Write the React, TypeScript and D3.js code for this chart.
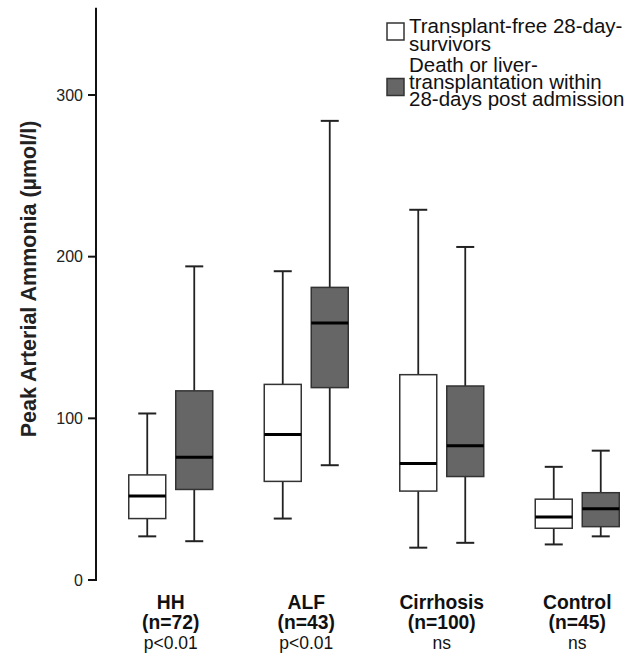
import React from 'react';
import * as d3 from 'd3';

// values: [min, q1, median, q3, max]
const groups = ['HH', 'ALF', 'Cirrhosis', 'Control'];
const nLabels = ['(n=72)', '(n=43)', '(n=100)', '(n=45)'];
const pLabels = ['p<0.01', 'p<0.01', 'ns', 'ns'];
const survivors = [
  [27, 38, 52, 65, 103],
  [38, 61, 90, 121, 191],
  [20, 55, 72, 127, 229],
  [22, 32, 39, 50, 70],
];
const deathOrLtx = [
  [24, 56, 76, 117, 194],
  [71, 119, 159, 181, 284],
  [23, 64, 83, 120, 206],
  [27, 33, 44, 54, 80],
];
const yTicks = [0, 100, 200, 300];
const seriesKeys = ['surv', 'death'];

const font = 'Liberation Sans, Arial, sans-serif';

export default function App() {
  const width = 633;
  const height = 653;

  const y = d3.scaleLinear().domain([0, 300]).range([580, 95]);
  const x = d3.scaleBand().domain(groups).range([103, 645]);
  const inner = d3.scaleBand().domain(seriesKeys).range([-47, 47])
    .paddingInner(10 / 47).paddingOuter(10 / 94);
  const bw = inner.bandwidth();
  const fills = { surv: '#ffffff', death: '#666666' };
  const capHalf = 9;

  const boxes = [];
  groups.forEach((g, i) => {
    seriesKeys.forEach(k => {
      const s = k === 'surv' ? survivors[i] : deathOrLtx[i];
      const cx = x(g) + x.bandwidth() / 2 + inner(k) + bw / 2;
      const left = cx - bw / 2;
      boxes.push(
        <g key={g + k}>
          <line x1={cx} x2={cx} y1={y(s[4])} y2={y(s[3])} stroke="#222" strokeWidth={1.8} />
          <line x1={cx} x2={cx} y1={y(s[1])} y2={y(s[0])} stroke="#222" strokeWidth={1.8} />
          <line x1={cx - capHalf} x2={cx + capHalf} y1={y(s[4])} y2={y(s[4])} stroke="#222" strokeWidth={2} />
          <line x1={cx - capHalf} x2={cx + capHalf} y1={y(s[0])} y2={y(s[0])} stroke="#222" strokeWidth={2} />
          <rect x={left} y={y(s[3])} width={bw} height={y(s[1]) - y(s[3])}
            fill={fills[k]} stroke="#333" strokeWidth={1.5} />
          <line x1={left} x2={left + bw} y1={y(s[2])} y2={y(s[2])} stroke="#000" strokeWidth={3} />
        </g>
      );
    });
  });

  return (
    <svg width={width} height={height} style={{ position: 'absolute', left: 0, top: 0, background: '#fff' }}
      fontFamily={font}>
      {/* y axis */}
      <line x1={96} x2={96} y1={y(0) + 1} y2={y(354)} stroke="#111" strokeWidth={2} />
      {yTicks.map(t => (
        <g key={t}>
          <line x1={88} x2={96} y1={y(t)} y2={y(t)} stroke="#111" strokeWidth={2} />
          <text x={83} y={y(t)} dy="0.36em" textAnchor="end" fontSize={16} fill="#222">{t}</text>
        </g>
      ))}
      <text transform={`translate(36,279) rotate(-90)`} textAnchor="middle" fontSize={21.5}
        fontWeight="bold" fill="#222">Peak Arterial Ammonia (µmol/l)</text>

      {boxes}

      {/* category labels */}
      {groups.map((g, i) => {
        const cx = x(g) + x.bandwidth() / 2;
        return (
          <g key={g} fill="#111">
            <text x={cx} y={608.5} textAnchor="middle" fontSize={19.3} fontWeight="bold">{g}</text>
            <text x={cx} y={629} textAnchor="middle" fontSize={19.3} fontWeight="bold">{nLabels[i]}</text>
            <text x={cx} y={649} textAnchor="middle" fontSize={17.5}>{pLabels[i]}</text>
          </g>
        );
      })}

      {/* legend */}
      <rect x={387} y={23} width={17} height={17} fill="#fff" stroke="#333" strokeWidth={1.5} />
      <rect x={387} y={78.5} width={17} height={17} fill="#666" stroke="#333" strokeWidth={1.5} />
      <g fontSize={20.5} fill="#111">
        <text x={409} y={33.3}>Transplant-free 28-day-</text>
        <text x={409} y={50.5}>survivors</text>
        <text x={409} y={71.7}>Death or liver-</text>
        <text x={409} y={88.8}>transplantation within</text>
        <text x={409} y={106}>28-days post admission</text>
      </g>
    </svg>
  );
}
